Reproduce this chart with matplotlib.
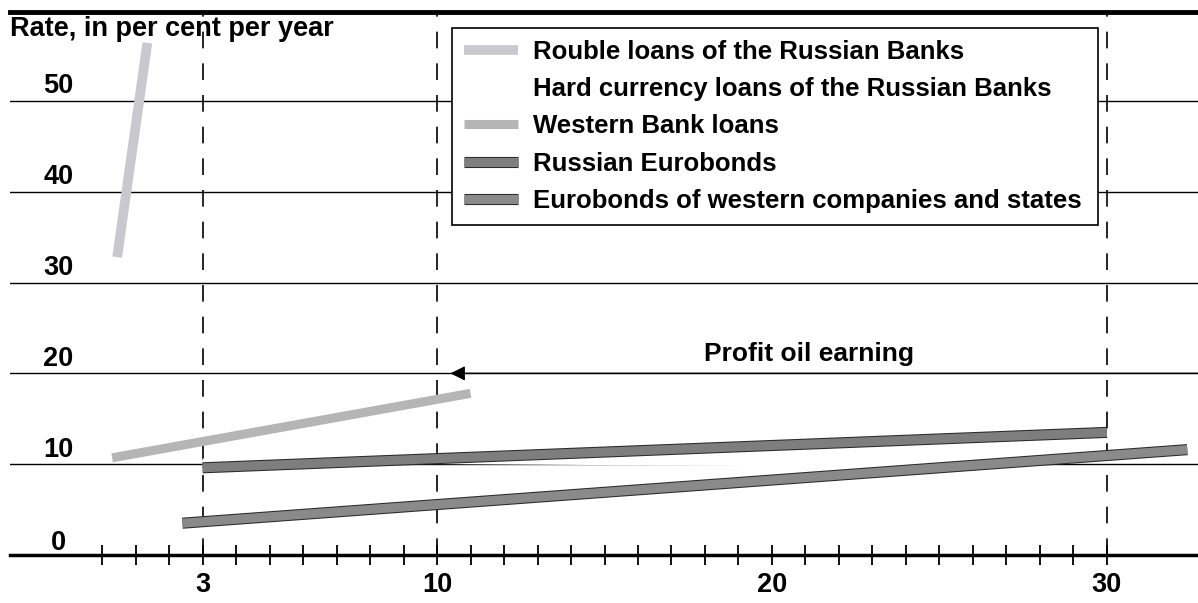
import matplotlib
matplotlib.use("Agg")
import matplotlib.pyplot as plt
import matplotlib.patheffects as pe

# maturity (years) and rate (% per year) for each series: start / end points
rouble_x = [0.45, 1.35]
rouble_y = [32.8, 56.4]
hard_x = [3.0, 25.0]
hard_y = [10.4, 9.9]
western_bank_x = [0.3, 11.0]
western_bank_y = [10.7, 17.8]
rus_euro_x = [3.0, 30.0]
rus_euro_y = [9.6, 13.5]
west_euro_x = [2.4, 32.4]
west_euro_y = [3.5, 11.6]

labels = ["Rouble loans of the Russian Banks",
          "Hard currency loans of the Russian Banks",
          "Western Bank loans",
          "Russian Eurobonds",
          "Eurobonds of western companies and states"]

y_levels = [0, 10, 20, 30, 40, 50]
x_labeled = [3, 10, 20, 30]
x_minor = [i for i in range(0, 31) if i not in x_labeled]
x_dashed = [3, 10, 30]
oil_rate = 20
oil_from = 10.4

plt.rcParams['font.family'] = ['Liberation Sans', 'DejaVu Sans']
plt.rcParams['font.weight'] = 'bold'

fig = plt.figure(figsize=(11.98, 6.03), dpi=100)
ax = fig.add_axes([10 / 1198, 0, 1 - 10 / 1198, 1 - 12 / 603])
ax.set_xlim(-2.75, 32.72)
ax.set_ylim(-5.29, 59.8)

# horizontal rules
for y in y_levels[1:]:
    ax.axhline(y, color='black', lw=1.0, zorder=1)
    ax.text(-1.3, y + 1.6, str(y), ha='center', va='center', fontsize=19.5, fontweight='bold')
ax.text(-1.3, 1.3, "0", ha='center', va='center', fontsize=19.5, fontweight='bold')

# dashed verticals, from the baseline up to the top rule
ax.vlines(x_dashed, 0, 59.8, color='black', lw=1.2, linestyles=[(0, (10, 9))], zorder=1)

# series
outline = [pe.Stroke(linewidth=8, foreground='#2a2a2a'), pe.Normal()]
ax.plot(rouble_x, rouble_y, color='#c8c8ce', lw=7, solid_capstyle='butt', label=labels[0], zorder=3)
ax.plot(hard_x, hard_y, color='white', lw=3, solid_capstyle='butt', label=labels[1], zorder=2)
ax.plot(western_bank_x, western_bank_y, color='#b5b5b5', lw=6.5, solid_capstyle='butt', label=labels[2], zorder=3)
ax.plot(rus_euro_x, rus_euro_y, color='#7e7e7e', lw=6.5, solid_capstyle='butt', label=labels[3], zorder=3,
        path_effects=outline)
ax.plot(west_euro_x, west_euro_y, color='#8a8a8a', lw=6.5, solid_capstyle='butt', label=labels[4], zorder=3,
        path_effects=outline)

# profit oil earning arrow
ax.annotate("", xy=(oil_from, oil_rate), xytext=(32.72, oil_rate),
            arrowprops=dict(arrowstyle='-|>', color='black', lw=1.0, mutation_scale=22,
                            shrinkA=0, shrinkB=0))
ax.text(21.1, 22.1, "Profit oil earning", ha='center', va='center', fontsize=19, fontweight='bold')

ax.text(0, 1.0 - 17 / 591, "Rate, in per cent per year", transform=ax.transAxes,
        ha='left', va='center', fontsize=19.5, fontweight='bold')

# axes frame: thick top rule, baseline at zero with ticks
for s in ['left', 'right']:
    ax.spines[s].set_visible(False)
ax.spines['top'].set_linewidth(3.5)
ax.spines['bottom'].set_position(('data', 0))
ax.spines['bottom'].set_linewidth(2.5)
ax.set_yticks([])
ax.set_xticks(x_labeled)
ax.set_xticklabels([str(v) for v in x_labeled], fontsize=19.5, fontweight='bold')
ax.set_xticks(x_minor, minor=True)
ax.tick_params(axis='x', which='both', direction='inout', length=15, width=1.3, pad=5)

leg = ax.legend(loc='upper left', mode='expand',
                bbox_to_anchor=(452 / 1198, 1 - 225 / 603, 646 / 1198, 197 / 603),
                bbox_transform=fig.transFigure, frameon=True, fancybox=False,
                edgecolor='black', framealpha=1, fontsize=18.5, handlelength=2.1,
                handletextpad=0.6, borderpad=0.45, labelspacing=0.52, borderaxespad=0)
leg.get_frame().set_linewidth(1.2)
for t in leg.get_texts():
    t.set_fontweight('bold')

fig.savefig("out.png", dpi=100)
